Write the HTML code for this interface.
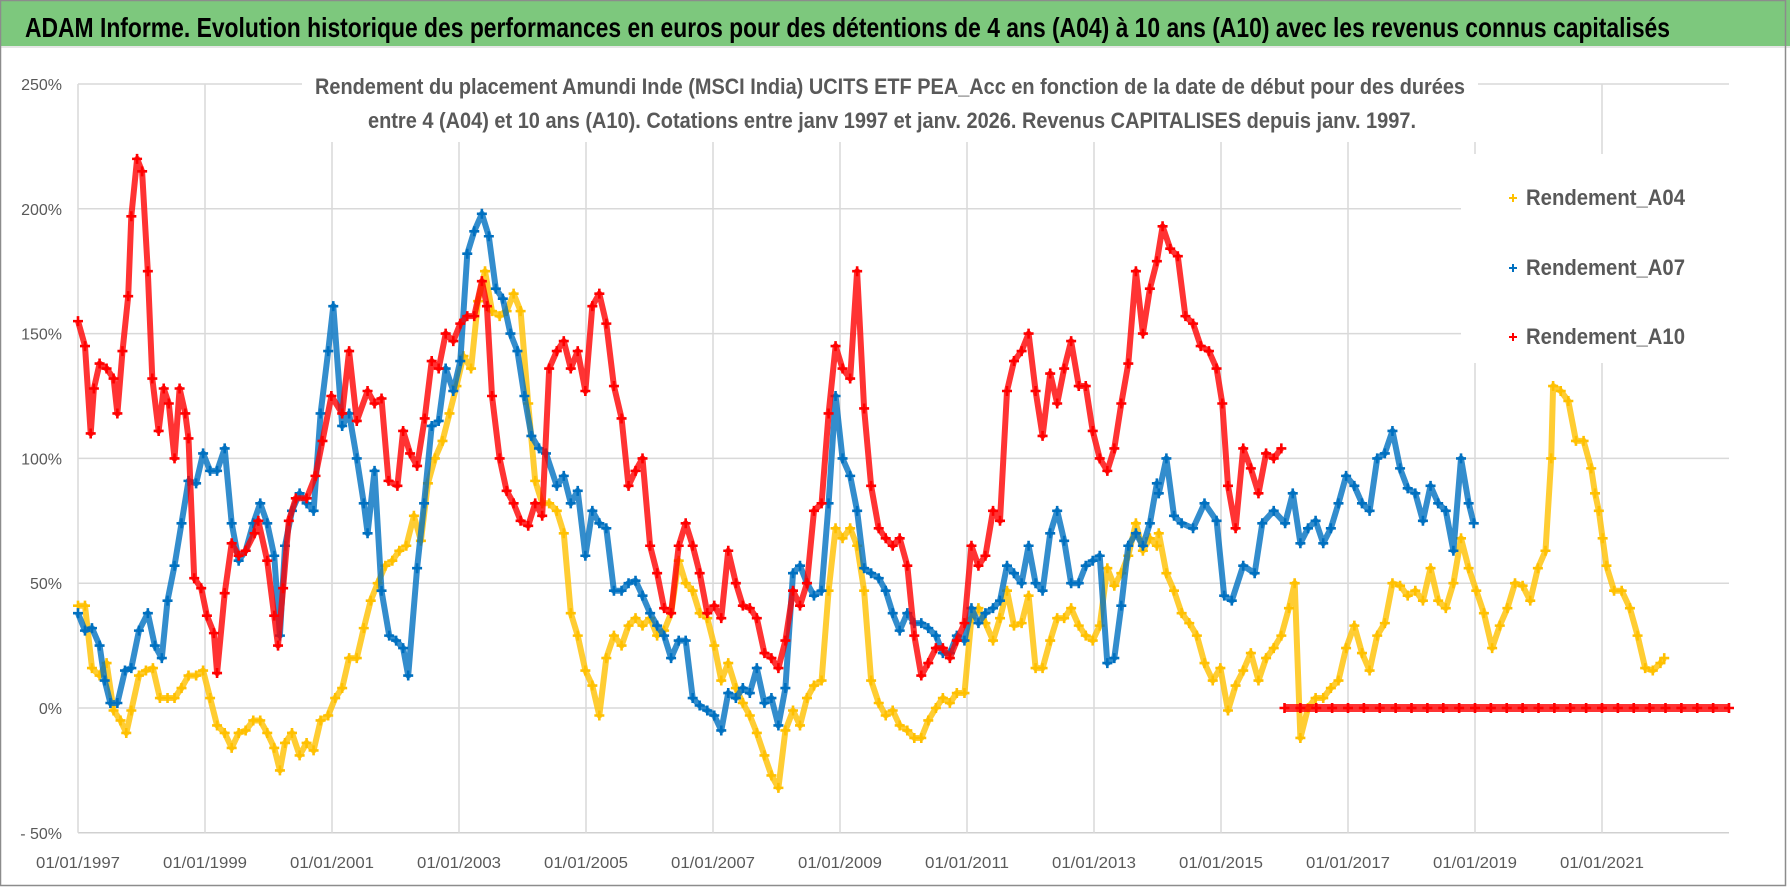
<!DOCTYPE html>
<html><head><meta charset="utf-8">
<style>
html,body{margin:0;padding:0;background:#fff;}
svg{display:block;font-family:"Liberation Sans Narrow","Liberation Sans",sans-serif;}
</style></head>
<body>
<svg id="chart" width="1790" height="887" viewBox="0 0 1790 887" xmlns="http://www.w3.org/2000/svg">
  <rect x="0" y="0" width="1790" height="887" fill="#fff"/>
  <rect x="0" y="0" width="1790" height="46" fill="#7DC87D"/>
  <line x1="0" y1="47" x2="1790" y2="47" stroke="#e6e6e6" stroke-width="2"/>
  <text x="25" y="37" font-size="28" font-weight="bold" fill="#000" textLength="1645" lengthAdjust="spacingAndGlyphs">ADAM Informe. Evolution historique des performances en euros pour des détentions de 4 ans (A04) à 10 ans (A10) avec les revenus connus capitalisés</text>
  <g id="grid"></g>
  <rect x="302" y="58" width="1176" height="84" fill="#fff"/>
  <rect x="1461" y="154" width="290" height="209" fill="#fff"/>
  <g id="series"></g>
  <text x="890" y="94" font-size="22" font-weight="bold" fill="#595959" text-anchor="middle" textLength="1150" lengthAdjust="spacingAndGlyphs">Rendement du placement Amundi Inde (MSCI India) UCITS ETF PEA_Acc en fonction de la date de début pour des durées</text>
  <text x="892" y="128" font-size="22" font-weight="bold" fill="#595959" text-anchor="middle" textLength="1048" lengthAdjust="spacingAndGlyphs">entre 4 (A04) et 10 ans (A10). Cotations entre janv 1997 et janv. 2026. Revenus CAPITALISES depuis janv. 1997.</text>
  <g id="axes"></g>
  <g>
    <g>
      <path d="M1509 198h8M1513 194v8" stroke="#FFC000" stroke-width="2"/>
      <text x="1526" y="205" font-size="22" font-weight="bold" fill="#595959" textLength="159" lengthAdjust="spacingAndGlyphs">Rendement_A04</text>
    </g>
    <g>
      <path d="M1509 268h8M1513 264v8" stroke="#0070C0" stroke-width="2"/>
      <text x="1526" y="275" font-size="22" font-weight="bold" fill="#595959" textLength="159" lengthAdjust="spacingAndGlyphs">Rendement_A07</text>
    </g>
    <g>
      <path d="M1509 337h8M1513 333v8" stroke="#FF0000" stroke-width="2"/>
      <text x="1526" y="344" font-size="22" font-weight="bold" fill="#595959" textLength="159" lengthAdjust="spacingAndGlyphs">Rendement_A10</text>
    </g>
  </g>
  <rect x="0.5" y="0.5" width="1785" height="885" fill="none" stroke="#8c8c8c" stroke-width="1.5"/>
</svg>
<script>
const yTicks = [250, 200, 150, 100, 50, 0, -50];
const yTickLabels = ["250%", "200%", "150%", "100%", "50%", "0%", "- 50%"];
const xTicks = [1997, 1999, 2001, 2003, 2005, 2007, 2009, 2011, 2013, 2015, 2017, 2019, 2021];
const xTickLabels = ["01/01/1997","01/01/1999","01/01/2001","01/01/2003","01/01/2005","01/01/2007","01/01/2009","01/01/2011","01/01/2013","01/01/2015","01/01/2017","01/01/2019","01/01/2021"];

const a04Years = [1997.00,1997.11,1997.22,1997.34,1997.45,1997.56,1997.67,1997.76,1997.84,1997.96,1998.07,1998.18,1998.29,1998.41,1998.52,1998.63,1998.74,1998.86,1998.97,1999.08,1999.19,1999.31,1999.42,1999.53,1999.64,1999.76,1999.87,1999.98,2000.09,2000.18,2000.26,2000.37,2000.49,2000.60,2000.71,2000.82,2000.94,2001.05,2001.16,2001.27,2001.39,2001.50,2001.61,2001.72,2001.84,2001.95,2002.06,2002.17,2002.29,2002.40,2002.51,2002.62,2002.74,2002.85,2002.96,2003.07,2003.19,2003.30,2003.41,2003.52,2003.64,2003.75,2003.86,2003.97,2004.09,2004.20,2004.31,2004.42,2004.54,2004.65,2004.76,2004.87,2004.99,2005.10,2005.21,2005.32,2005.44,
2005.56,2005.67,2005.78,2005.89,2006.01,2006.12,2006.23,2006.34,2006.46,2006.57,2006.68,2006.79,2006.91,2007.02,2007.13,2007.24,2007.36,2007.47,2007.58,2007.69,2007.81,2007.92,2008.03,2008.14,2008.26,2008.37,2008.48,2008.59,2008.71,2008.82,2008.93,2009.04,2009.16,2009.27,2009.38,2009.49,2009.61,2009.72,2009.83,2009.94,2010.06,2010.17,2010.28,2010.39,2010.51,2010.62,2010.73,2010.84,2010.96,2011.07,2011.18,2011.29,2011.41,2011.52,2011.63,2011.74,2011.86,2011.97,2012.08,2012.19,2012.31,2012.42,2012.53,2012.64,2012.76,2012.87,2012.98,2013.09,2013.21,2013.32,2013.43,2013.54,2013.66,2013.77,2013.88,2013.99,
2014.02,2014.14,2014.26,2014.38,2014.50,2014.62,2014.74,2014.87,2014.99,2015.11,2015.23,2015.35,2015.47,2015.59,2015.71,2015.83,2015.95,2016.07,2016.16,2016.25,2016.37,2016.49,2016.61,2016.73,2016.85,2016.97,2017.10,2017.22,2017.34,2017.46,2017.58,2017.70,2017.82,2017.94,2018.06,2018.18,2018.30,2018.42,2018.54,2018.66,2018.78,2018.90,2019.02,2019.14,2019.27,2019.39,2019.51,2019.63,2019.75,2019.87,2019.99,2020.11,2020.20,2020.23,2020.35,2020.47,2020.59,2020.71,2020.83,2020.89,2020.95,2021.01,2021.07,2021.19,2021.31,2021.44,2021.56,2021.68,2021.80,2021.92,2021.98];
const a04Vals = [41,41,16,13,18,-1,-5,-10,-1,13,15,16,4,4,4,8,13,13,15,4,-7,-10,-16,-10,-9,-5,-5,-10,-16,-25,-14,-10,-19,-14,-17,-5,-3,4,8,20,20,32,43,50,57,59,63,65,77,67,90,100,107,118,129,141,136,163,175,159,157,159,166,159,122,91,82,82,79,70,38,29,15,9,-3,20,29,
25,33,36,33,36,29,31,38,59,50,47,38,36,25,11,18,8,2,-3,-10,-19,-27,-32,-9,-1,-7,4,9,11,47,72,68,72,65,47,11,2,-3,-1,-7,-9,-12,-12,-5,0,4,2,6,6,36,40,34,27,36,47,33,34,45,16,16,27,36,36,40,33,29,27,33,56,49,54,61,74,63,68,65,
70,54,47,38,34,29,18,11,16,-1,9,15,22,11,20,24,29,40,50,-12,0,4,4,8,11,24,33,22,15,29,34,50,49,45,47,43,56,43,40,50,68,56,47,38,24,33,40,50,49,43,56,63,100,129,127,123,107,107,96,86,79,68,57,47,47,40,29,16,15,18,20];

const a07Years = [1997.00,1997.11,1997.22,1997.34,1997.42,1997.51,1997.62,1997.74,1997.84,1997.96,1998.10,1998.21,1998.32,1998.41,1998.52,1998.63,1998.74,1998.86,1998.97,1999.08,1999.19,1999.31,1999.42,1999.53,1999.64,1999.76,1999.87,1999.98,2000.09,2000.18,2000.26,2000.37,2000.49,2000.60,2000.71,2000.82,2000.94,2001.02,2001.16,2001.27,2001.39,2001.50,2001.56,2001.67,2001.78,2001.90,2002.01,2002.12,2002.20,2002.34,2002.45,2002.57,2002.68,2002.79,2002.91,2003.02,2003.13,2003.24,2003.36,2003.47,2003.58,2003.69,2003.81,2003.92,2004.03,2004.14,2004.26,2004.37,2004.54,2004.65,2004.76,2004.87,2004.99,2005.10,2005.21,2005.32,2005.44,
2005.56,2005.67,2005.78,2005.89,2006.01,2006.12,2006.23,2006.34,2006.46,2006.57,2006.68,2006.79,2006.91,2007.02,2007.13,2007.24,2007.36,2007.47,2007.58,2007.69,2007.81,2007.92,2008.03,2008.14,2008.26,2008.37,2008.48,2008.59,2008.71,2008.82,2008.93,2009.04,2009.16,2009.27,2009.38,2009.49,2009.61,2009.72,2009.83,2009.94,2010.06,2010.17,2010.28,2010.39,2010.51,2010.62,2010.73,2010.84,2010.96,2011.07,2011.18,2011.29,2011.41,2011.52,2011.63,2011.74,2011.86,2011.97,2012.08,2012.19,2012.31,2012.42,2012.53,2012.64,2012.76,2012.87,2012.98,2013.09,2013.21,2013.32,2013.43,2013.54,2013.66,2013.77,2013.88,2013.99,
2014.02,2014.14,2014.26,2014.38,2014.56,2014.74,2014.93,2015.05,2015.17,2015.35,2015.53,2015.65,2015.83,2016.01,2016.13,2016.25,2016.37,2016.49,2016.61,2016.73,2016.85,2016.97,2017.10,2017.22,2017.34,2017.46,2017.58,2017.70,2017.82,2017.94,2018.06,2018.18,2018.30,2018.42,2018.54,2018.66,2018.78,2018.90,2018.98];
const a07Vals = [38,31,32,25,11,2,2,15,16,31,38,25,20,43,57,74,91,90,102,95,95,104,74,59,63,74,82,74,61,29,65,79,86,82,79,118,143,161,113,118,100,82,70,95,47,29,27,24,13,56,82,113,115,136,127,139,182,191,198,189,168,164,150,143,125,109,104,102,89,93,82,87,61,79,74,72,47,
47,50,51,45,38,33,29,20,27,27,4,1,-1,-3,-9,6,4,8,6,16,2,4,-7,8,54,57,50,45,47,82,125,100,93,79,56,54,52,47,38,31,38,34,34,32,29,22,22,29,27,40,34,38,40,43,57,54,50,65,50,47,70,79,67,50,50,57,59,61,18,20,41,65,70,65,74,90,
86,100,77,74,72,82,75,45,43,57,54,74,79,74,86,66,72,75,66,72,82,93,89,82,79,100,102,111,96,88,86,75,89,82,79,63,100,82,74];

const a10Years = [1997.00,1997.11,1997.20,1997.25,1997.34,1997.45,1997.56,1997.62,1997.70,1997.79,1997.84,1997.93,1998.01,1998.10,1998.17,1998.27,1998.35,1998.43,1998.52,1998.60,1998.69,1998.74,1998.83,1998.94,1999.03,1999.14,1999.19,1999.31,1999.42,1999.53,1999.64,1999.78,1999.84,1999.98,2000.09,2000.15,2000.23,2000.32,2000.43,2000.60,2000.74,2000.85,2000.99,2001.16,2001.27,2001.39,2001.56,2001.67,2001.78,2001.89,2002.03,2002.12,2002.23,2002.34,2002.46,2002.57,2002.68,2002.79,2002.91,2003.02,2003.13,2003.24,2003.36,2003.44,2003.52,2003.64,2003.75,2003.86,2003.97,2004.09,2004.20,2004.31,2004.42,2004.54,2004.65,2004.76,2004.87,2004.99,2005.10,2005.21,2005.32,
2005.44,2005.56,2005.67,2005.78,2005.89,2006.01,2006.12,2006.23,2006.34,2006.46,2006.57,2006.68,2006.79,2006.91,2007.02,2007.13,2007.24,2007.36,2007.47,2007.58,2007.69,2007.81,2007.92,2008.03,2008.14,2008.26,2008.37,2008.48,2008.59,2008.71,2008.82,2008.93,2009.04,2009.16,2009.27,2009.38,2009.49,2009.61,2009.72,2009.83,2009.94,2010.06,2010.17,2010.28,2010.39,2010.51,2010.62,2010.73,2010.84,2010.96,2011.07,2011.18,2011.29,2011.41,2011.52,2011.63,2011.74,2011.86,2011.97,2012.08,2012.19,2012.31,2012.42,2012.53,2012.64,2012.76,2012.87,2012.98,2013.09,2013.21,2013.32,2013.43,2013.54,2013.66,2013.77,2013.88,2013.99,
2014.08,2014.20,2014.32,2014.44,2014.56,2014.68,2014.81,2014.93,2015.02,2015.11,2015.23,2015.35,2015.47,2015.59,2015.71,2015.83,2015.95];
const a10Vals = [155,145,110,128,138,136,132,118,143,165,197,220,215,175,132,111,128,122,100,128,118,108,52,48,37,30,14,46,66,61,63,70,75,59,37,25,48,75,84,84,93,107,125,118,143,115,127,122,124,91,89,111,102,97,116,139,136,150,147,154,157,157,171,161,125,100,87,82,75,73,82,77,136,143,147,136,143,127,161,166,154,
129,116,89,95,100,65,54,40,38,65,74,65,54,38,41,36,63,50,41,40,36,22,20,16,27,47,41,50,79,82,118,145,136,132,175,120,89,72,68,65,68,57,29,13,18,24,24,20,27,34,65,57,61,79,75,127,139,143,150,127,109,134,122,136,147,129,129,111,100,95,104,122,138,175,150,168,179,
193,184,181,157,154,145,143,136,122,89,72,104,96,86,102,100,104];

const a10ZeroYears = [2016.00,2016.25,2016.50,2016.75,2017.00,2017.25,2017.50,2017.75,2018.00,2018.25,2018.50,2018.75,2019.00,2019.25,2019.50,2019.75,2020.00,2020.25,2020.50,2020.75,2021.00,2021.25,2021.50,2021.75,2022.00,2022.25,2022.50,2022.75,2023.00];
const a10ZeroVals = [0,0,0,0,0,0,0,0,0,0,0,0,0,0,0,0,0,0,0,0,0,0,0,0,0,0,0,0,0];

const NS = "http://www.w3.org/2000/svg";
const X0 = 78, PX_PER_YEAR = 63.5, Y0 = 708, PX_PER_PCT = 2.496;
function xScale(yr){ return X0 + (yr - 1997) * PX_PER_YEAR; }
function yScale(v){ return Y0 - v * PX_PER_PCT; }
function mk(tag, attrs, parent){
  const e = document.createElementNS(NS, tag);
  for (const k in attrs) e.setAttribute(k, attrs[k]);
  parent.appendChild(e);
  return e;
}

const grid = document.getElementById('grid');
const axes = document.getElementById('axes');
const xEnd = xScale(2023);
yTicks.forEach((t, i) => {
  const ln = mk('line', {x1: X0, x2: xEnd, y1: yScale(t), y2: yScale(t), stroke: t === -50 ? '#d0d0d0' : '#d9d9d9', 'stroke-width': 1.5}, grid);
  
  
  const tx = mk('text', {x: 62, y: yScale(t) + 6, 'font-size': 16, fill: '#595959', 'text-anchor': 'end'}, axes);
  tx.textContent = yTickLabels[i];
  
  
});
xTicks.forEach((t, i) => {
  const ln = mk('line', {x1: xScale(t), x2: xScale(t), y1: yScale(250), y2: yScale(-50), stroke: '#d9d9d9', 'stroke-width': 1.5}, grid);
  
  
  const tx = mk('text', {x: xScale(t), y: 868, 'font-size': 16, fill: '#595959', 'text-anchor': 'middle', textLength: 84, lengthAdjust: 'spacingAndGlyphs'}, axes);
  tx.textContent = xTickLabels[i];
  
  
});

const layer = document.getElementById('series');
function drawSeries(years, vals, color, name, width){
  const g = mk('g', {}, layer);
  
  
  let d = '';
  years.forEach((yr, i) => { d += (i ? 'L' : 'M') + xScale(yr).toFixed(1) + ' ' + yScale(vals[i]).toFixed(1); });
  mk('path', {d: d, fill: 'none', stroke: color, 'stroke-width': width, 'stroke-opacity': 0.8, 'stroke-linejoin': 'round'}, g);
  years.forEach((yr, i) => {
    const x = xScale(yr), y = yScale(vals[i]);
    const p = mk('path', {d: `M${x-5} ${y}h10M${x} ${y-5}v10`, stroke: color, 'stroke-width': 2.6}, g);
    
    
  });
}
drawSeries(a04Years, a04Vals, '#FFC000', 'series-a04', 6);
drawSeries(a07Years, a07Vals, '#0070C0', 'series-a07', 6);
drawSeries(a10Years, a10Vals, '#FF0000', 'series-a10', 6);
drawSeries(a10ZeroYears, a10ZeroVals, '#FF0000', 'series-a10-zero', 8);
</script>
</body></html>
